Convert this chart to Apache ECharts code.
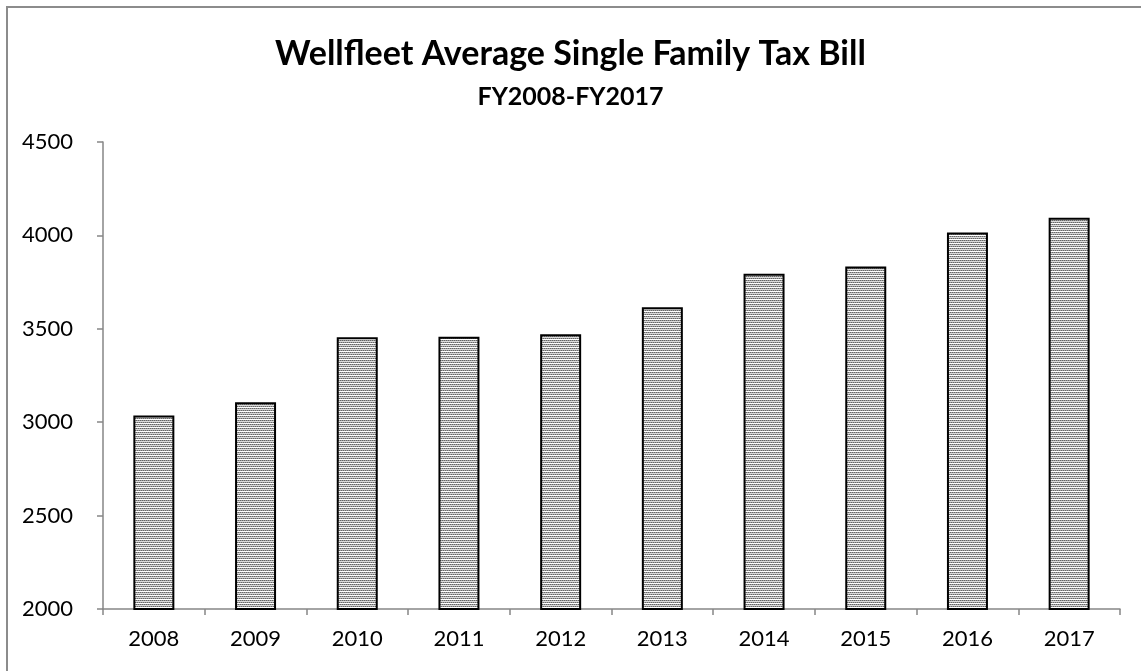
<!DOCTYPE html>
<html>
<head>
<meta charset="utf-8">
<script src="https://cdn.jsdelivr.net/npm/echarts@6/dist/echarts.min.js"></script>
<style>
html,body{margin:0;padding:0;background:#fff;}
#chart{width:1141px;height:671px;}
</style>
</head>
<body>
<div id="chart"></div>
<script>
const titleText = 'Wellfleet Average Single Family Tax Bill';
const subtitleText = 'FY2008-FY2017';
const categories = ['2008','2009','2010','2011','2012','2013','2014','2015','2016','2017'];
const taxBill = [3036, 3107, 3455, 3457, 3471, 3615, 3795, 3834, 4016, 4094];
const yTicks = [2000, 2500, 3000, 3500, 4000, 4500];

// dotted fill pattern
const pc = document.createElement('canvas');
pc.width = 4; pc.height = 4;
const pctx = pc.getContext('2d');
pctx.fillStyle = '#dcdcdc';
pctx.fillRect(0,0,4,4);
pctx.fillStyle = '#666666';
pctx.fillRect(0,0,1,1);
pctx.fillRect(2,0,1,1);
pctx.fillRect(1,2,1,1);
pctx.fillRect(3,2,1,1);
pctx.fillStyle = '#a0a0a0';
pctx.fillRect(1,0,1,1);
pctx.fillRect(3,0,1,1);
pctx.fillRect(0,2,1,1);
pctx.fillRect(2,2,1,1);
pctx.fillStyle = '#ffffff';
pctx.fillRect(0,3,4,1);

const font = 'Lato, "Open Sans", sans-serif';
const chart = echarts.init(document.getElementById('chart'));
chart.setOption({
  animation: false,
  backgroundColor: '#fff',
  title: [
    { text: titleText, left: 'center', top: 32,
      textStyle: { fontFamily: font, fontSize: 34, fontWeight: 'bold', color: '#000' } },
    { text: subtitleText, left: 'center', top: 79,
      textStyle: { fontFamily: font, fontSize: 25, fontWeight: 'bold', color: '#000' } }
  ],
  graphic: [{
    type: 'rect', shape: { x: 7, y: 7, width: 1300, height: 900 },
    style: { fill: 'none', stroke: '#8c8c8c', lineWidth: 2 }, silent: true
  }],
  grid: { left: 103, right: 21, top: 142, bottom: 62 },
  xAxis: {
    type: 'category', data: categories,
    axisLine: { lineStyle: { color: '#868686', width: 1.5 } },
    axisTick: { show: true, length: 6, lineStyle: { color: '#868686', width: 1.5 } },
    axisLabel: { fontFamily: font, fontSize: 22, color: '#000', margin: 19 }
  },
  yAxis: {
    type: 'value', min: yTicks[0], max: yTicks[yTicks.length-1], interval: 500,
    splitLine: { show: false },
    axisLine: { show: true, lineStyle: { color: '#868686', width: 1.5 } },
    axisTick: { show: true, length: 6, lineStyle: { color: '#868686', width: 1.5 } },
    axisLabel: { fontFamily: font, fontSize: 22, color: '#000', margin: 30,
      formatter: v => String(v) }
  },
  series: [{
    type: 'bar', data: taxBill, barWidth: 41,
    itemStyle: { color: { image: pc, repeat: 'repeat' }, borderColor: '#000', borderWidth: 2 }
  }]
});
</script>
</body>
</html>
